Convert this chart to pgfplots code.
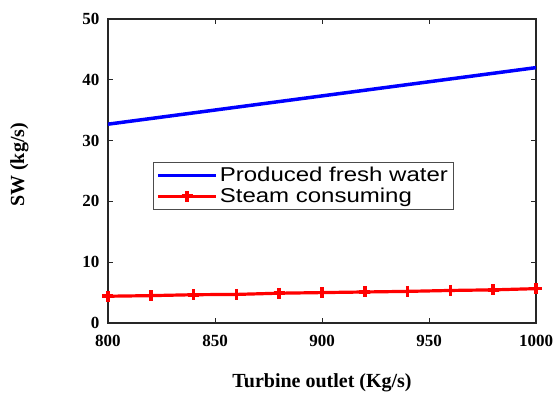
\documentclass[border=0pt]{standalone}
\usepackage{fontspec}
\setmainfont{Liberation Serif}
\newfontfamily\legfont{Liberation Sans}
\usepackage{pgfplots}
\pgfplotsset{compat=1.18}
\begin{document}
\begin{tikzpicture}
\begin{axis}[
  scale only axis,
  width=428pt, height=304pt,
  xmin=800, xmax=1000, ymin=0, ymax=50,
  xtick={800,850,...,1000}, ytick={0,10,...,50},
  axis line style={line width=1.2pt, black!85},
  tick style={line width=1pt, black!85},
  major tick length=5pt,
  tick align=inside,
  ticklabel style={font=\fontsize{17}{20}\selectfont\bfseries},
  /pgf/number format/assume math mode=true,
  /pgf/number format/set thousands separator={},
  xticklabel style={yshift=-9pt},
  yticklabel style={xshift=-5pt},
  xlabel={Turbine outlet (Kg/s)},
  ylabel={SW (kg/s)},
  label style={font=\fontsize{20}{24}\selectfont\bfseries},
  xlabel style={at={(axis description cs:0.5,-0.197)}, anchor=center},
  ylabel style={at={(axis description cs:-0.207,0.52)}, anchor=center, rotate=0},
  legend style={at={(axis description cs:0.105,0.53)}, anchor=north west,
    font=\legfont\fontsize{20}{24}\selectfont, draw=black!70, line width=0.8pt,
    inner sep=3pt, row sep=1pt, cells={anchor=west}},
  legend image code/.code={
    \draw[#1] (0pt,0pt) -- (58pt,0pt);
    \draw[#1, only marks] plot coordinates {(29pt,0pt)};
  },
]
\addplot[blue, line width=3.5pt, mark=none] coordinates {(800,32.7) (1000,42.0)};
\addlegendentry{\scalebox{1.2}[1]{Produced fresh water}}
\addplot[red, line width=3.2pt, mark=+, mark size=5.5pt, mark options={line width=3.6pt}]
 coordinates {(800,4.4) (820,4.5) (840,4.65) (860,4.7) (880,4.9) (900,5.0) (920,5.1) (940,5.2) (960,5.35) (980,5.45) (1000,5.65)};
\addlegendentry{\scalebox{1.2}[1]{Steam consuming}}
\end{axis}
\path ([xshift=-108pt,yshift=-71pt]current axis.south west) ([xshift=21pt,yshift=19pt]current axis.north east);
\end{tikzpicture}
\end{document}
